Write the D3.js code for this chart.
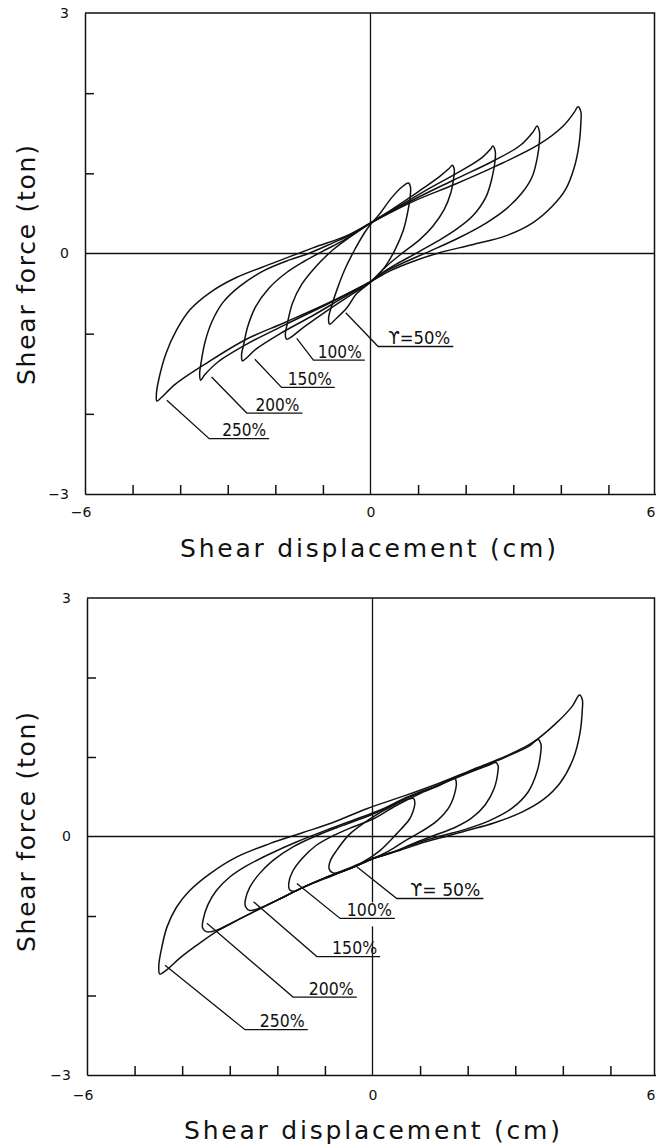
<!DOCTYPE html>
<html>
<head>
<meta charset="utf-8">
<script src="https://cdn.jsdelivr.net/npm/d3@7"></script>
<style>
  html, body { margin: 0; padding: 0; background: #fff; }
  svg { display: block; }
  text { font-family: "DejaVu Sans", sans-serif; fill: #111; }
</style>
</head>
<body>
<svg id="chart" width="656" height="1145"></svg>
<script>
// Shear force (ton) vs shear displacement (cm): hysteresis loops at five strain levels.
// Each loop is a closed path: right peak -> unloading -> left peak -> reloading.

// ---- upper panel ----
const upper50 = [[0.80,0.88],[0.84,0.83],[0.84,0.75],[0.79,0.54],[0.69,0.29],[0.51,0.04],[0.30,-0.17],[0.06,-0.33],[-0.29,-0.50],[-0.50,-0.68],[-0.72,-0.81],[-0.86,-0.88],[-0.88,-0.80],[-0.82,-0.66],[-0.71,-0.46],[-0.54,-0.20],[-0.33,0.05],[-0.08,0.30],[0.20,0.50],[0.45,0.70],[0.66,0.83]];
const upper100 = [[1.72,1.10],[1.76,1.05],[1.75,0.95],[1.69,0.76],[1.55,0.55],[1.31,0.34],[1.03,0.17],[0.68,0.01],[0.33,-0.16],[0.0,-0.35],[-0.5,-0.55],[-1.0,-0.75],[-1.45,-0.94],[-1.66,-1.04],[-1.76,-1.07],[-1.79,-1.01],[-1.75,-0.88],[-1.64,-0.62],[-1.44,-0.38],[-1.16,-0.17],[-0.80,0.04],[-0.42,0.21],[0.0,0.38],[0.5,0.57],[1.0,0.77],[1.45,0.96],[1.65,1.06]];
const upper150 = [[2.57,1.34],[2.62,1.28],[2.62,1.17],[2.56,0.96],[2.43,0.71],[2.15,0.47],[1.80,0.30],[1.40,0.15],[0.95,0.0],[0.55,-0.13],[0.25,-0.24],[0.0,-0.35],[-0.6,-0.56],[-1.2,-0.77],[-1.9,-1.00],[-2.40,-1.19],[-2.60,-1.30],[-2.69,-1.34],[-2.71,-1.26],[-2.67,-1.15],[-2.58,-0.91],[-2.41,-0.66],[-2.13,-0.43],[-1.77,-0.24],[-1.40,-0.10],[-1.0,0.03],[-0.55,0.17],[0.0,0.38],[0.6,0.59],[1.2,0.80],[1.9,1.03],[2.35,1.20],[2.52,1.30]];
const upper200 = [[3.50,1.59],[3.55,1.52],[3.55,1.40],[3.51,1.21],[3.40,0.96],[3.19,0.76],[2.84,0.55],[2.43,0.38],[1.87,0.20],[1.25,0.03],[0.75,-0.10],[0.33,-0.22],[0.0,-0.35],[-0.9,-0.63],[-1.8,-0.89],[-2.6,-1.13],[-3.2,-1.35],[-3.48,-1.51],[-3.57,-1.58],[-3.59,-1.50],[-3.56,-1.36],[-3.48,-1.11],[-3.34,-0.86],[-3.10,-0.61],[-2.75,-0.41],[-2.26,-0.22],[-1.70,-0.08],[-1.30,0.0],[-0.80,0.13],[-0.40,0.24],[0.0,0.38],[0.9,0.67],[1.76,0.92],[2.6,1.16],[3.15,1.35],[3.42,1.52]];
const upper250 = [[4.36,1.83],[4.42,1.77],[4.42,1.62],[4.38,1.35],[4.28,1.07],[4.10,0.80],[3.82,0.59],[3.40,0.38],[2.84,0.22],[2.14,0.11],[1.45,0.01],[0.89,-0.10],[0.40,-0.22],[0.0,-0.35],[-0.9,-0.62],[-1.8,-0.86],[-2.61,-1.07],[-3.45,-1.37],[-4.10,-1.63],[-4.40,-1.80],[-4.49,-1.84],[-4.50,-1.76],[-4.46,-1.60],[-4.30,-1.25],[-4.08,-0.96],[-3.79,-0.70],[-3.38,-0.49],[-2.82,-0.30],[-2.05,-0.12],[-1.21,0.07],[-0.51,0.22],[0.0,0.38],[0.9,0.65],[1.76,0.86],[2.6,1.08],[3.54,1.36],[4.05,1.59],[4.28,1.76]];

// ---- lower panel ----
const lower50 = [[0.86,0.48],[0.89,0.43],[0.86,0.33],[0.78,0.22],[0.50,0.03],[0.15,-0.18],[-0.20,-0.32],[-0.55,-0.41],[-0.82,-0.46],[-0.91,-0.41],[-0.89,-0.31],[-0.76,-0.18],[-0.48,0.03],[-0.06,0.22],[0.43,0.39],[0.75,0.47]];
const lower100 = [[1.72,0.74],[1.76,0.69],[1.75,0.60],[1.62,0.38],[1.36,0.20],[1.02,0.06],[0.70,-0.05],[0.35,-0.18],[0.0,-0.28],[-0.5,-0.41],[-1.0,-0.53],[-1.46,-0.64],[-1.64,-0.69],[-1.74,-0.67],[-1.76,-0.59],[-1.68,-0.44],[-1.47,-0.27],[-1.18,-0.11],[-0.83,0.01],[-0.41,0.12],[0.01,0.22],[0.5,0.39],[1.0,0.54],[1.40,0.64],[1.62,0.71]];
const lower150 = [[2.59,0.93],[2.64,0.89],[2.64,0.84],[2.56,0.61],[2.37,0.40],[2.08,0.23],[1.72,0.11],[1.28,0.01],[0.85,-0.09],[0.42,-0.20],[0.0,-0.28],[-0.5,-0.41],[-1.0,-0.52],[-1.46,-0.64],[-2.0,-0.80],[-2.37,-0.90],[-2.58,-0.93],[-2.67,-0.88],[-2.67,-0.79],[-2.58,-0.64],[-2.38,-0.47],[-2.09,-0.30],[-1.67,-0.13],[-1.18,0.01],[-0.62,0.14],[0.0,0.28],[0.71,0.48],[1.40,0.65],[2.10,0.82],[2.45,0.90]];
const lower200 = [[3.48,1.22],[3.54,1.16],[3.54,1.08],[3.46,0.82],[3.27,0.56],[2.92,0.35],[2.46,0.20],[1.95,0.09],[1.45,0.01],[1.00,-0.07],[0.50,-0.18],[0.0,-0.28],[-0.5,-0.41],[-1.0,-0.52],[-1.46,-0.64],[-2.0,-0.80],[-2.37,-0.91],[-2.8,-1.04],[-3.24,-1.17],[-3.48,-1.20],[-3.57,-1.15],[-3.56,-1.05],[-3.46,-0.86],[-3.28,-0.68],[-3.00,-0.51],[-2.65,-0.37],[-2.16,-0.22],[-1.60,-0.07],[-0.97,0.08],[-0.34,0.22],[0.15,0.33],[0.71,0.49],[1.40,0.65],[2.10,0.83],[2.80,1.00],[3.30,1.14]];
const lower250 = [[4.35,1.78],[4.41,1.72],[4.41,1.60],[4.36,1.30],[4.22,0.98],[3.95,0.68],[3.60,0.47],[3.15,0.31],[2.55,0.17],[1.95,0.07],[1.60,0.01],[1.10,-0.07],[0.55,-0.18],[0.0,-0.28],[-0.5,-0.41],[-1.0,-0.52],[-1.46,-0.64],[-2.0,-0.80],[-2.37,-0.91],[-2.8,-1.04],[-3.24,-1.18],[-3.7,-1.37],[-4.05,-1.53],[-4.33,-1.68],[-4.47,-1.73],[-4.49,-1.62],[-4.43,-1.40],[-4.32,-1.14],[-4.12,-0.89],[-3.84,-0.68],[-3.42,-0.47],[-2.86,-0.26],[-2.16,-0.09],[-1.46,0.05],[-0.86,0.17],[-0.12,0.35],[0.71,0.52],[1.40,0.67],[2.10,0.84],[2.80,1.01],[3.36,1.18],[3.85,1.42],[4.20,1.64]];

// strain-level labels
const upperLabels = ["\u03D2=50%", "100%", "150%", "200%", "250%"];
const lowerLabels = ["\u03D2= 50%", "100%", "150%", "200%", "250%"];

// leader anchors in data units: [loopX, loopY, elbowX, elbowY, underlineEndX]
const upperLeaders = [
  [-0.52, -0.74, 0.16, -1.16, 1.74],
  [-1.55, -1.06, -1.20, -1.33, -0.12],
  [-2.43, -1.32, -1.87, -1.67, -0.75],
  [-3.34, -1.54, -2.60, -1.99, -1.43],
  [-4.28, -1.83, -3.39, -2.31, -2.13]
];
const lowerLeaders = [
  [-0.33, -0.38, 0.51, -0.78, 2.33],
  [-1.59, -0.59, -0.68, -1.03, 0.47],
  [-2.50, -0.82, -1.17, -1.51, 0.16],
  [-3.48, -1.09, -1.67, -2.02, -0.33],
  [-4.36, -1.62, -2.68, -2.43, -1.36]
];

// axis ticks
const xMinorTicks = [-5, -4, -3, -2, -1, 1, 2, 3, 4, 5];
const yMinorTicks = [-2, -1, 1, 2];
const xTickLabels = [-6, 0, 6];
const yTickLabels = [-3, 0, 3];

const xTitle = "Shear displacement (cm)";
const yTitle = "Shear force (ton)";

const W = 656;
const INK = "#111";
const fmt = d3.format("d");
const svg = d3.select("#chart");

function drawPanel(cfg) {
  const x = d3.scaleLinear().domain([-6, 6]).range(cfg.xRange);
  const y = d3.scaleLinear().domain([-3, 3]).range(cfg.yRange);
  const g = svg.append("g");
  const x0 = x(-6), x1 = Math.min(x(6), W - 1.5);
  const yTop = y(3), yBot = y(-3);

  // frame: top and right edges
  g.append("path")
    .attr("d", `M${x0},${yTop}H${x1}V${yBot}`)
    .attr("fill", "none").attr("stroke", INK).attr("stroke-width", 1.5);

  // zero lines
  g.append("line").attr("x1", x0).attr("x2", x1).attr("y1", y(0)).attr("y2", y(0))
    .attr("stroke", INK).attr("stroke-width", 1.3);
  g.append("line").attr("x1", x(0)).attr("x2", x(0)).attr("y1", yTop).attr("y2", yBot)
    .attr("stroke", INK).attr("stroke-width", 1.3);

  // bottom and left axes with inward ticks
  const ax = g.append("g").attr("transform", `translate(0,${yBot})`)
    .call(d3.axisBottom(x).tickValues(xMinorTicks).tickSizeInner(-9).tickSizeOuter(0).tickFormat(""));
  const ay = g.append("g").attr("transform", `translate(${x0},0)`)
    .call(d3.axisLeft(y).tickValues(yMinorTicks).tickSizeInner(-9).tickSizeOuter(0).tickFormat(""));
  [ax, ay].forEach(a => {
    a.selectAll("path, line").attr("stroke", INK).attr("stroke-width", 1.5);
  });

  // tick labels
  const lx = g.append("g").attr("transform", `translate(0,${yBot})`)
    .call(d3.axisBottom(x).tickValues(xTickLabels).tickSize(0).tickPadding(cfg.xLabelPad).tickFormat(fmt));
  lx.select(".domain").remove();
  lx.selectAll("text").attr("font-size", 14).attr("font-family", "DejaVu Sans").attr("fill", INK)
    .attr("dx", d => d < 0 ? "-0.32em" : 0)
    .attr("text-anchor", d => x(d) > W - 8 ? "end" : "middle")
    .attr("x", d => x(d) > W - 8 ? (W - 1) - x(d) : 0);
  const ly = g.append("g").attr("transform", `translate(${x0},0)`)
    .call(d3.axisLeft(y).tickValues(yTickLabels).tickSize(0).tickPadding(16).tickFormat(fmt));
  ly.select(".domain").remove();
  ly.selectAll("text").attr("font-size", 14).attr("font-family", "DejaVu Sans").attr("fill", INK);

  // axis titles
  g.append("text").attr("x", cfg.xTitlePos[0]).attr("y", cfg.xTitlePos[1])
    .attr("text-anchor", "middle").attr("font-size", 25)
    .attr("textLength", 376).attr("lengthAdjust", "spacing").text(xTitle);
  g.append("text").attr("transform", `translate(${cfg.yTitlePos[0]},${cfg.yTitlePos[1]}) rotate(-90)`)
    .attr("text-anchor", "middle").attr("font-size", 25)
    .attr("textLength", 240).attr("lengthAdjust", "spacing").text(yTitle);

  // hysteresis loops
  const line = d3.line().x(d => x(d[0])).y(d => y(d[1]))
    .curve(d3.curveCatmullRomClosed.alpha(0.5));
  g.selectAll("path.loop").data(cfg.loops).join("path").attr("class", "loop")
    .attr("d", line).attr("fill", "none").attr("stroke", INK)
    .attr("stroke-width", 1.5).attr("stroke-linejoin", "round");

  // leaders and labels
  cfg.leaders.forEach((c, i) => {
    const sx = x(c[0]), sy = y(c[1]), ex = x(c[2]), ey = y(c[3]), ux = x(c[4]);
    const label = cfg.labels[i];
    const w = label.length > 4 ? cfg.wideLabelW : cfg.labelW;
    const tx = ux - 3 - w;
    if (cfg.masked && cfg.masked.includes(i)) {
      g.append("rect").attr("x", tx - 1).attr("y", ey - 16).attr("width", w + 2).attr("height", 24)
        .attr("fill", "#fff");
    }
    g.append("path").attr("d", `M${sx},${sy}L${ex},${ey}H${ux}`)
      .attr("fill", "none").attr("stroke", INK).attr("stroke-width", 1.3);
    g.append("text").attr("x", tx).attr("y", ey - 2.5)
      .attr("font-size", 18).attr("textLength", w).attr("lengthAdjust", "spacingAndGlyphs")
      .text(label);
  });
}

drawPanel({
  xRange: [85, 656], yRange: [494, 13],
  xLabelPad: 13, xTitlePos: [368, 557], yTitlePos: [35, 265],
  loops: [upper50, upper100, upper150, upper200, upper250],
  leaders: upperLeaders, labels: upperLabels, labelW: 44, wideLabelW: 62
});

drawPanel({
  xRange: [87, 658], yRange: [1075, 598],
  xLabelPad: 15, xTitlePos: [372, 1139], yTitlePos: [35, 832],
  loops: [lower50, lower100, lower150, lower200, lower250],
  leaders: lowerLeaders, labels: lowerLabels, labelW: 45, wideLabelW: 70,
  masked: [1]
});
</script>
</body>
</html>
